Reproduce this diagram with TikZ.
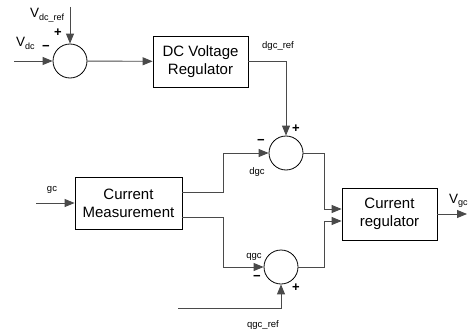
\documentclass[tikz,border=0pt]{standalone}
\usepackage{fontspec}
\setmainfont{Liberation Sans}
\usetikzlibrary{arrows.meta, positioning, calc}
\definecolor{wiregray}{HTML}{4A4A4A}
\newcommand{\subtxt}[1]{{\fontsize{9}{9}\selectfont\raisebox{-2.5pt}{#1}}}

\begin{document}
\begin{tikzpicture}[x=1pt, y=-1pt, >={Triangle[length=10pt, width=8pt]},
  block/.style={draw, line width=0.8pt, minimum width=95pt, minimum height=51pt,
    inner sep=0pt, align=center, font=\fontsize{15}{18}\selectfont},
  sumnode/.style={draw, circle, minimum size=34pt, inner sep=0pt, line width=0.8pt},
  wire/.style={draw=wiregray, line width=0.9pt},
  lbl/.style={inner sep=0pt, font=\fontsize{9.5}{11}\selectfont},
  bigv/.style={inner sep=0pt, font=\fontsize{13.5}{13.5}\selectfont},
  sign/.style={inner sep=0pt, font=\fontsize{13}{13}\selectfont\bfseries}]
  \useasboundingbox (0,0) rectangle (473,334);

  % blocks and summing points
  \node[sumnode] (sumdc) at (70,61) {};
  \node[block] (dcreg) at (200.5,61.5) {DC Voltage\\Regulator};
  \node[sumnode] (sumd) at (286,153) {};
  \node[block, minimum width=107pt, minimum height=52pt] (meas) at (128.5,203) {Current\\Measurement};
  \node[sumnode] (sumq) at (281,267) {};
  \node[block, minimum height=52pt] (ireg) at (389.5,214) {Current\\regulator};

  % free ends and bends
  \coordinate (vdcin) at (14,61);
  \coordinate (vrefin) at (70,7);
  \coordinate (gcin) at (36,203);
  \coordinate (qrefin) at (178,308);
  \coordinate (vout) at (467,214);
  \coordinate (ljog) at (223,0);
  \coordinate (rjog) at (324,0);

  % DC voltage loop
  \draw[wire, ->] (vdcin) -- (sumdc);
  \draw[wire, ->] (vrefin) -- (sumdc);
  \draw[wire, ->] (sumdc) -- (dcreg);
  \draw[wire, ->] (dcreg.east) -| (sumd.north);

  % current loop
  \draw[wire, ->] (gcin) -- (meas);
  \draw[wire, ->] ([yshift=11pt]meas.east) -| (ljog |- sumd.west) -- (sumd.west);
  \draw[wire, ->] ([yshift=-14pt]meas.east) -| (ljog |- sumq.west) -- (sumq.west);
  \draw[wire, ->] (qrefin) -| (sumq.south);
  \draw[wire, ->] (sumd.east) -| ([yshift=5pt]ireg.west -| rjog) -- ([yshift=5pt]ireg.west);
  \draw[wire, ->] (sumq.east) -| ([yshift=-7pt]ireg.west -| rjog) -- ([yshift=-7pt]ireg.west);
  \draw[wire, ->] (ireg.east) -- (vout);

  % labels
  \node[bigv, anchor=base west] (lvref) at (30,18) {V\subtxt{dc\_ref}};
  \node[bigv, anchor=base west] (lvdc) at (16,47) {V\subtxt{dc}};
  \node[sign] (pdc) at (58,33) {+};
  \node[sign] (mdc) at (46,48) {−};
  \node[lbl, anchor=west] (ldref) at (262,46) {dgc\_ref};
  \node[sign] (pd) at (296,129) {+};
  \node[sign] (md) at (261,142) {−};
  \node[lbl] (ld) at (257,172) {dgc};
  \node[lbl] (lgc) at (52,190) {gc};
  \node[lbl] (lq) at (254,257) {qgc};
  \node[sign] (mq) at (257,278) {−};
  \node[sign] (pq) at (296,288) {+};
  \node[lbl] (lqref) at (263,325) {qgc\_ref};
  \node[bigv, anchor=base west] (lvgc) at (449,203) {V\subtxt{gc}};
\end{tikzpicture}
\end{document}
